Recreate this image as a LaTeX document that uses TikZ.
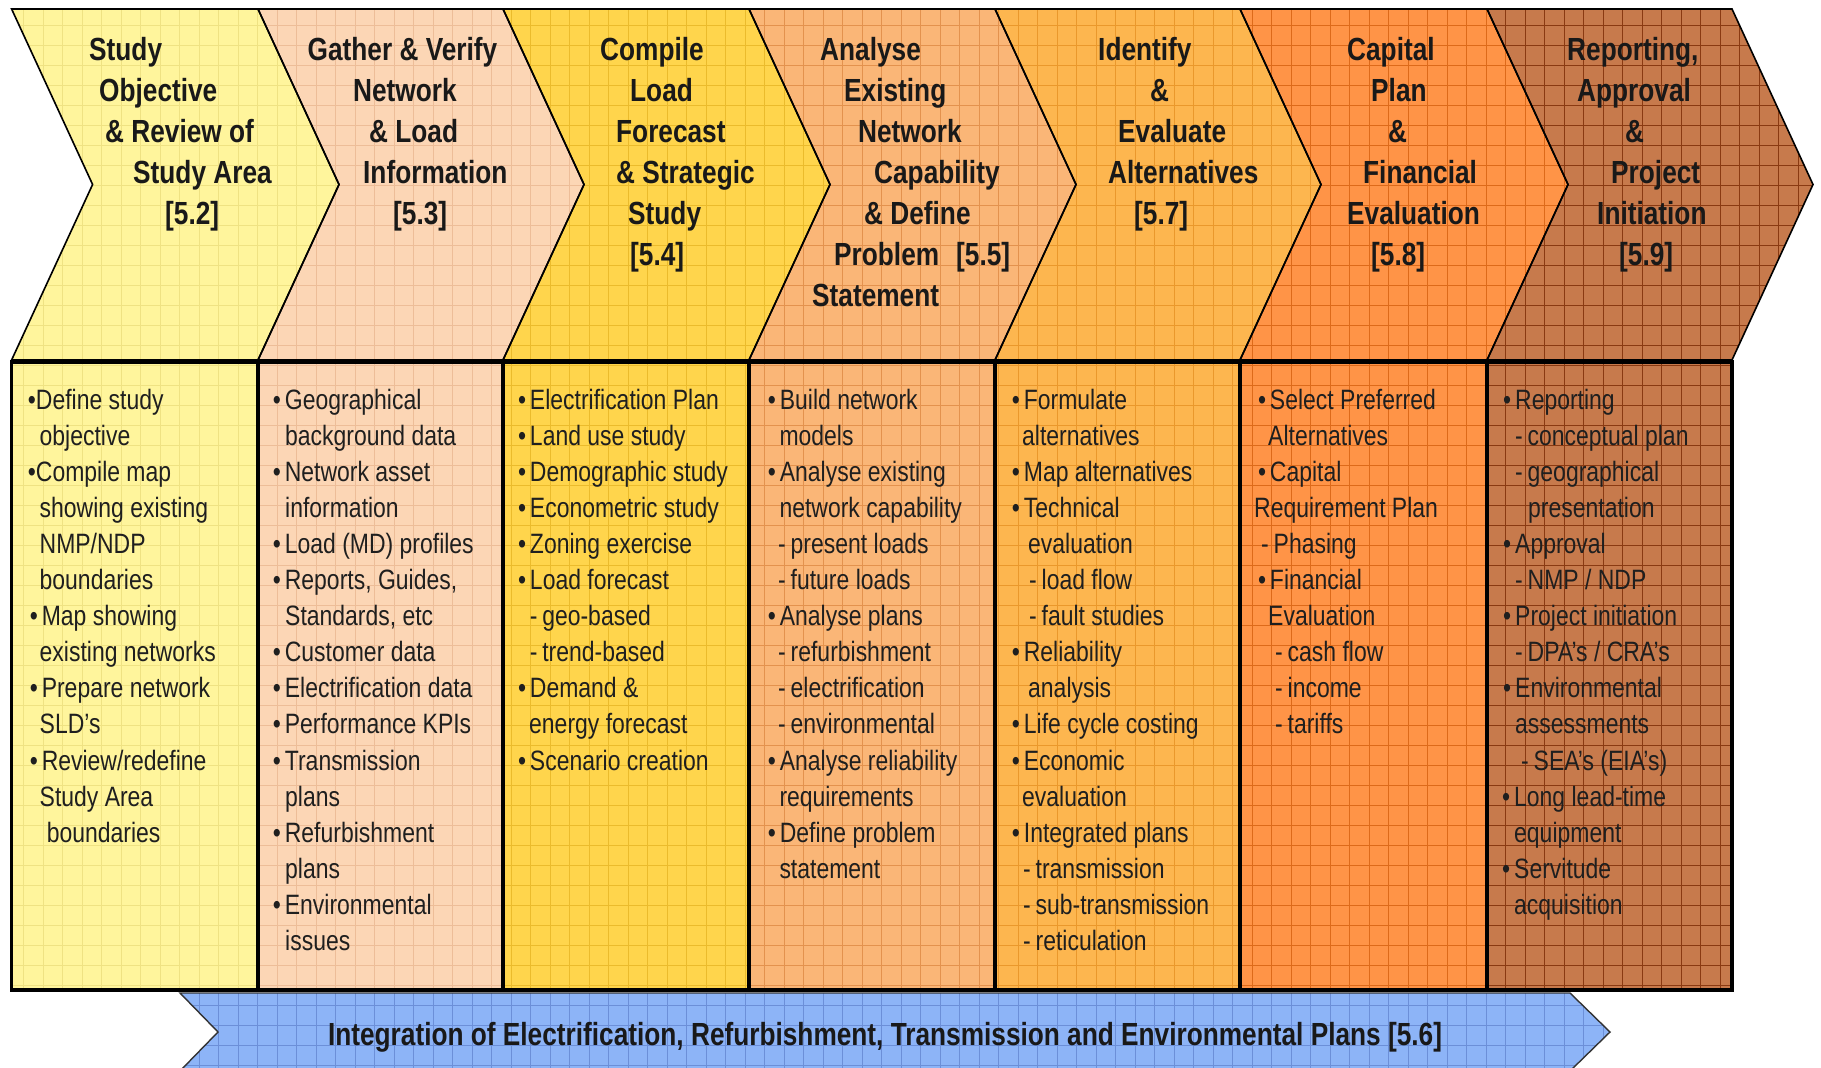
\documentclass[tikz,border=0pt]{standalone}
\usepackage{fontspec}
\setmainfont[FakeStretch=0.82]{Liberation Sans}
\definecolor{ca}{HTML}{FFF59C}\definecolor{ga}{HTML}{EFE283}
\definecolor{cb}{HTML}{FCD6B5}\definecolor{gb}{HTML}{EDBD98}
\definecolor{cc}{HTML}{FFD54C}\definecolor{gc}{HTML}{EBBB2C}
\definecolor{cd}{HTML}{FAB677}\definecolor{gd}{HTML}{E3924E}
\definecolor{ce}{HTML}{FDB64F}\definecolor{ge}{HTML}{EA982C}
\definecolor{cf}{HTML}{FF9447}\definecolor{gf}{HTML}{DD6A1A}
\definecolor{cg}{HTML}{C77A4C}\definecolor{gg}{HTML}{8A3A12}
\definecolor{cbl}{HTML}{8DB4F7}\definecolor{gbl}{HTML}{6C8FD8}
\newcount\lnum
\def\cy{0}
\newcommand\setrow[1]{\xdef\cy{#1}}
\newcommand\bu{\makebox[12pt][l]{•}}
\newcommand\da{\makebox[12.5pt][l]{-}}
\newcommand\bline[2]{\global\advance\lnum by 1\relax
  \node[body] (L\the\lnum) at (#1,\cy) {#2};
  \pgfmathparse{\cy+36.1}\xdef\cy{\pgfmathresult}}
\newcommand\hdl[2]{\global\advance\lnum by 1\relax
  \node[hdr] (H\the\lnum) at (#1,\cy) {#2};
  \pgfmathparse{\cy+41}\xdef\cy{\pgfmathresult}}
\newcommand\colpath[2]{(#1,9) -- (#2,9) -- ++(81,175.5) -- ++(-81,175.5) -- (#1,360) -- ++(81,-175.5) -- cycle (#1,362) rectangle (#2,990)}
\newcommand\chevpath[2]{(#1,9) -- (#2,9) -- ++(81,175.5) -- ++(-81,175.5) -- (#1,360) -- ++(81,-175.5) -- cycle}
\newcommand\gridfill[3]{%
  \begin{scope}
    \clip #1;
    \fill[#2] (0,0) rectangle (1830,1080);
    \draw[#3,line width=1pt] \foreach \gx in {4,23.5,...,1830}{(\gx,0) -- (\gx,1080)};
    \draw[#3,line width=1pt] \foreach \gy in {5,25,...,1080}{(0,\gy) -- (1830,\gy)};
  \end{scope}}
\begin{document}
\begin{tikzpicture}[x=1pt,y=-1pt,
  body/.style={anchor=base west, inner sep=0pt, font=\fontsize{28}{34}\selectfont, text=black!88},
  hdr/.style={anchor=base west, inner sep=0pt, font=\bfseries\fontsize{32}{38}\selectfont, text=black!90},
  chevline/.style={draw=black, line width=1.6pt, line join=miter},
  boxline/.style={draw=black, line width=3.2pt}]
\useasboundingbox (0,0) rectangle (1821,1068);
\fill[white] (0,0) rectangle (1821,1068);
% column fills with grid
\gridfill{\colpath{11.6}{258}}{ca}{ga}
\gridfill{\colpath{258}{503}}{cb}{gb}
\gridfill{\colpath{503}{749}}{cc}{gc}
\gridfill{\colpath{749}{995}}{cd}{gd}
\gridfill{\colpath{995}{1240}}{ce}{ge}
\gridfill{\colpath{1240}{1487}}{cf}{gf}
\gridfill{\colpath{1487}{1732}}{cg}{gg}
% blue arrow
\gridfill{(180,993) -- (1570,993) -- (1610,1032) -- (1570,1071) -- (180,1071) -- (218,1032) -- cycle}{cbl}{gbl}
\draw[draw=black!80, line width=1.4pt] (180,993) -- (1570,993) -- (1610,1032) -- (1570,1071) -- (180,1071) -- (218,1032) -- cycle;
% chevron outlines
\draw[chevline] \chevpath{11.6}{258};
\draw[chevline] \chevpath{258}{503};
\draw[chevline] \chevpath{503}{749};
\draw[chevline] \chevpath{749}{995};
\draw[chevline] \chevpath{995}{1240};
\draw[chevline] \chevpath{1240}{1487};
\draw[chevline] \chevpath{1487}{1732};
% boxes
\draw[boxline] (11.6,362) rectangle (1732,990);
\foreach \bx in {258,503,749,995,1240,1487}{\draw[boxline] (\bx,362) -- (\bx,990);}
% header texts
\setrow{60.5}
\hdl{89}{Study}\hdl{99}{Objective}\hdl{105}{\& Review of}\hdl{133}{Study Area}\hdl{165}{[5.2]}
\setrow{60.5}
\hdl{307.5}{Gather \& Verify}\hdl{353}{Network}\hdl{369}{\& Load}\hdl{363}{Information}\hdl{393}{[5.3]}
\setrow{60.5}
\hdl{600}{Compile}\hdl{630}{Load}\hdl{616}{Forecast}\hdl{616}{\& Strategic}\hdl{628}{Study}\hdl{630}{[5.4]}
\setrow{60.5}
\hdl{820}{Analyse}\hdl{844}{Existing}\hdl{858}{Network}\hdl{874}{Capability}\hdl{864}{\& Define}\hdl{834}{Problem\hspace{17pt}[5.5]}\hdl{812}{Statement}
\setrow{60.5}
\hdl{1098}{Identify}\hdl{1150}{\&}\hdl{1118}{Evaluate}\hdl{1108}{Alternatives}\hdl{1134}{[5.7]}
\setrow{60.5}
\hdl{1347}{Capital}\hdl{1371}{Plan}\hdl{1388}{\&}\hdl{1363}{Financial}\hdl{1347}{Evaluation}\hdl{1371}{[5.8]}
\setrow{60.5}
\hdl{1567}{Reporting,}\hdl{1577}{Approval}\hdl{1625}{\&}\hdl{1611}{Project}\hdl{1597}{Initiation}\hdl{1619}{[5.9]}
% body texts
\setrow{409}
\bline{27.7}{•Define study}
\bline{39.5}{objective}
\bline{27.7}{•Compile map}
\bline{39.5}{showing existing}
\bline{39.5}{NMP/NDP}
\bline{39.5}{boundaries}
\bline{29.6}{\bu Map showing}
\bline{39.5}{existing networks}
\bline{29.6}{\bu Prepare network}
\bline{39.5}{SLD's}
\bline{29.6}{\bu Review/redefine}
\bline{39.5}{Study Area}
\bline{46.6}{boundaries}
\setrow{409}
\bline{272.7}{\bu Geographical}
\bline{285}{background data}
\bline{272.7}{\bu Network asset}
\bline{285}{information}
\bline{272.7}{\bu Load (MD) profiles}
\bline{272.7}{\bu Reports, Guides,}
\bline{285}{Standards, etc}
\bline{272.7}{\bu Customer data}
\bline{272.7}{\bu Electrification data}
\bline{272.7}{\bu Performance KPIs}
\bline{272.7}{\bu Transmission}
\bline{285}{plans}
\bline{272.7}{\bu Refurbishment}
\bline{285}{plans}
\bline{272.7}{\bu Environmental}
\bline{285}{issues}
\setrow{409}
\bline{517.8}{\bu Electrification Plan}
\bline{517.8}{\bu Land use study}
\bline{517.8}{\bu Demographic study}
\bline{517.8}{\bu Econometric study}
\bline{517.8}{\bu Zoning exercise}
\bline{517.8}{\bu Load forecast}
\bline{529.6}{\da geo-based}
\bline{529.6}{\da trend-based}
\bline{517.8}{\bu Demand \&}
\bline{529}{energy forecast}
\bline{517.8}{\bu Scenario creation}
\setrow{409}
\bline{767.7}{\bu Build network}
\bline{779.3}{models}
\bline{767.7}{\bu Analyse existing}
\bline{779.3}{network capability}
\bline{778}{\da present loads}
\bline{778}{\da future loads}
\bline{767.7}{\bu Analyse plans}
\bline{778}{\da refurbishment}
\bline{778}{\da electrification}
\bline{778}{\da environmental}
\bline{767.7}{\bu Analyse reliability}
\bline{779.3}{requirements}
\bline{767.7}{\bu Define problem}
\bline{779.3}{statement}
\setrow{409}
\bline{1011.7}{\bu Formulate}
\bline{1022}{alternatives}
\bline{1011.7}{\bu Map alternatives}
\bline{1011.7}{\bu Technical}
\bline{1028}{evaluation}
\bline{1029}{\da load flow}
\bline{1029}{\da fault studies}
\bline{1011.7}{\bu Reliability}
\bline{1028}{analysis}
\bline{1011.7}{\bu Life cycle costing}
\bline{1011.7}{\bu Economic}
\bline{1022}{evaluation}
\bline{1011.7}{\bu Integrated plans}
\bline{1023}{\da transmission}
\bline{1023}{\da sub-transmission}
\bline{1023}{\da reticulation}
\setrow{409}
\bline{1257.8}{\bu Select Preferred}
\bline{1268}{Alternatives}
\bline{1257.8}{\bu Capital}
\bline{1254}{Requirement Plan}
\bline{1261}{\da Phasing}
\bline{1257.8}{\bu Financial}
\bline{1268}{Evaluation}
\bline{1275}{\da cash flow}
\bline{1275}{\da income}
\bline{1275}{\da tariffs}
\setrow{409}
\bline{1503}{\bu Reporting}
\bline{1515}{\da conceptual plan}
\bline{1515}{\da geographical}
\bline{1528}{presentation}
\bline{1503}{\bu Approval}
\bline{1515}{\da NMP / NDP}
\bline{1503}{\bu Project initiation}
\bline{1515}{\da DPA's / CRA's}
\bline{1503}{\bu Environmental}
\bline{1515}{assessments}
\bline{1521}{\da SEA's (EIA's)}
\bline{1502}{\bu Long lead-time}
\bline{1514}{equipment}
\bline{1502}{\bu Servitude}
\bline{1514}{acquisition}
% blue arrow label
\node[anchor=base, inner sep=0pt, font=\bfseries\fontsize{32}{38}\selectfont, text=black!90] (integ) at (885,1045) {Integration of Electrification, Refurbishment, Transmission and Environmental Plans [5.6]};
\end{tikzpicture}
\end{document}
